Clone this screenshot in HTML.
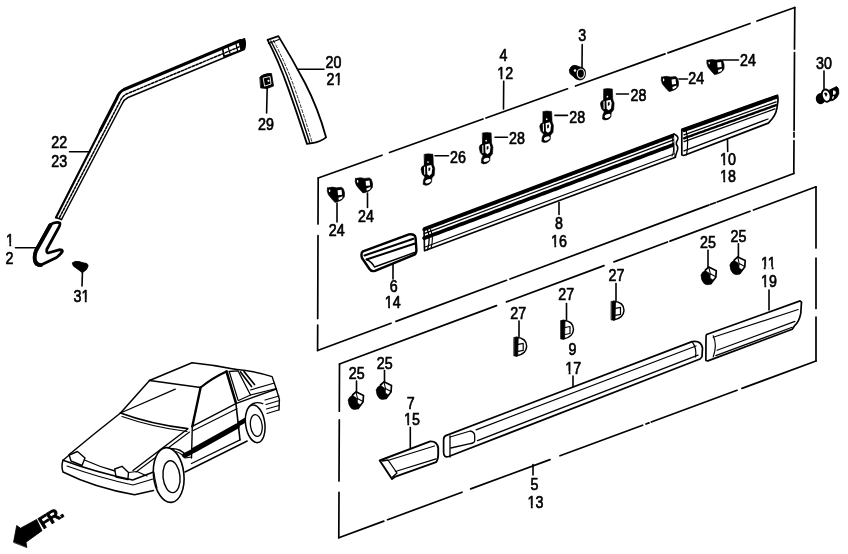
<!DOCTYPE html>
<html><head><meta charset="utf-8"><style>
html,body{margin:0;padding:0;background:#fff;}
svg{display:block;filter:grayscale(1)}
text{font-family:"Liberation Sans",sans-serif;font-size:17.0px;text-anchor:middle;fill:#000;stroke:#000;stroke-width:0.7px}
</style></head><body>
<svg width="848" height="554" viewBox="0 0 848 554">
<rect width="848" height="554" fill="#fff"/>
<g fill="none" stroke="#000" stroke-linecap="round" stroke-linejoin="round">
<path d="M318.2 178.0L382.0 155.2M389.5 152.5L483.0 119.0M486.0 118.0L567.5 88.8M575.5 86.0L665.0 53.9M668.0 52.9L750.0 23.5M757.0 21.0L794.8 7.5" stroke-width="1.70"/>
<path d="M794.8 7.5L794.5 49.0M794.5 52.5L794.1 130.3M794.0 132.6L794.0 137.1M794.0 140.7L793.8 173.5" stroke-width="1.70"/>
<path d="M793.8 173.5L717.1 202.0M715.2 202.7L710.3 204.5M708.7 205.1L510.0 279.0M506.5 280.3L396.0 321.4M391.0 323.2L317.6 350.5" stroke-width="1.70"/>
<path d="M317.6 350.5L317.7 325.0M317.7 318.5L318.0 235.5M318.0 224.0L318.2 178.0" stroke-width="1.70"/>
<path d="M339.5 364.0L496.5 305.6M506.5 301.9L604.0 265.6M614.0 261.9L667.5 242.0M670.0 241.1L750.0 211.3M753.5 210.0L816.0 186.8" stroke-width="1.70"/>
<path d="M816.0 186.8L816.0 248.0M816.0 258.0L816.0 308.5M816.0 317.0L816.0 361.0" stroke-width="1.70"/>
<path d="M816.0 361.0L742.0 388.4M737.0 390.3L651.3 422.0M649.0 422.9L646.0 424.0M642.6 425.2L560.0 455.8M550.0 459.6L470.7 488.9M462.0 492.2L387.6 519.7M383.8 521.1L338.8 537.8" stroke-width="1.70"/>
<path d="M338.8 537.8L339.0 492.3M339.0 481.0L339.3 419.9M339.3 411.2L339.5 364.0" stroke-width="1.70"/>
<path d="M15.5 247.7L36.0 247.7" stroke-width="1.6"/>
<path d="M69.5 151.7L90.0 151.7" stroke-width="1.6"/>
<path d="M82.5 271.0L82.0 286.0" stroke-width="1.6"/>
<path d="M298.4 69.3L324.0 69.3" stroke-width="1.6"/>
<path d="M267.2 88.0L266.6 113.0" stroke-width="1.6"/>
<path d="M503.7 81.0L503.5 109.0" stroke-width="1.6"/>
<path d="M582.2 44.5L582.0 67.5" stroke-width="1.6"/>
<path d="M435.0 155.8L448.5 155.8" stroke-width="1.6"/>
<path d="M495.0 137.2L507.5 137.2" stroke-width="1.6"/>
<path d="M555.0 115.4L567.5 115.4" stroke-width="1.6"/>
<path d="M616.5 94.0L628.5 94.0" stroke-width="1.6"/>
<path d="M679.0 79.0L687.5 79.0" stroke-width="1.6"/>
<path d="M722.0 60.0L738.5 60.0" stroke-width="1.6"/>
<path d="M824.0 71.0L824.0 89.0" stroke-width="1.6"/>
<path d="M337.0 203.0L337.0 222.0" stroke-width="1.6"/>
<path d="M367.5 193.0L367.5 207.5" stroke-width="1.6"/>
<path d="M393.0 263.0L393.0 279.0" stroke-width="1.6"/>
<path d="M559.0 202.5L559.0 214.5" stroke-width="1.6"/>
<path d="M727.5 139.5L727.7 151.5" stroke-width="1.6"/>
<path d="M708.0 250.3L708.0 267.5" stroke-width="1.6"/>
<path d="M738.4 243.8L738.4 256.5" stroke-width="1.6"/>
<path d="M769.0 290.0L769.0 310.0" stroke-width="1.6"/>
<path d="M519.0 321.0L519.0 336.5" stroke-width="1.6"/>
<path d="M566.5 303.5L566.5 320.0" stroke-width="1.6"/>
<path d="M616.0 283.5L616.0 301.0" stroke-width="1.6"/>
<path d="M573.0 376.0L573.0 386.5" stroke-width="1.6"/>
<path d="M356.5 381.0L356.5 394.0" stroke-width="1.6"/>
<path d="M384.5 370.5L384.5 383.5" stroke-width="1.6"/>
<path d="M410.3 427.0L410.3 448.0" stroke-width="1.6"/>
<path d="M533.0 464.5L533.0 475.0" stroke-width="1.6"/>
<path d="M424.0 228.0 L674.0 134.0 L675.5 157.2 L424.5 250.8Z" stroke-width="1.6" fill="#fff"/>
<path d="M424.0 229.6L674.1 135.6" stroke-width="3.20" stroke-dasharray="2.5 0.8"/>
<path d="M424.1 233.6L674.4 139.7" stroke-width="1.30"/>
<path d="M424.2 238.1L674.7 144.3" stroke-width="3.80" stroke-dasharray="2 0.7"/>
<path d="M424.4 247.2L675.3 153.5" stroke-width="1.20"/>
<path d="M427 228.5 Q431 238 427.5 250" stroke-width="1.3"/>
<path d="M430.5 229.5 Q434 237 431 248.5" stroke-width="1.1"/>
<path d="M674 134 Q678.5 136 677.9 139 Q676 142 676.3 144.3 Q678.5 147 677.5 150 L675 157.3" stroke-width="1.5" fill="#fff"/>
<path d="M670.5 136 Q674 139 672.5 145 Q675 150 672 156" stroke-width="1.1"/>
<path d="M681.8 129.2 L777.5 95.2 Q778.5 99 777.5 104 Q777 113 772 119 L768.3 123.1 L683.8 155.5 L681.8 155 Z" stroke-width="1.7" fill="#fff"/>
<path d="M684 130.2L776 97.1" stroke-width="3.80" stroke-dasharray="2.5 0.8"/>
<path d="M684 134.9L776 101.8" stroke-width="1.30"/>
<path d="M684 138.3L776 105.2" stroke-width="2.40" stroke-dasharray="1.5 1"/>
<path d="M684 141.6L775 108.9" stroke-width="1.30"/>
<path d="M684 150.9L768 119.0" stroke-width="1.30"/>
<path d="M686 130 Q689 142 686.5 155" stroke-width="1.2"/>
<path d="M363 251.3 L409 234.4 Q415 233.5 415.6 238 L416.4 250 Q416.5 253.5 414.5 254.6 L375 270.8 Q371.5 272 369.5 269 L362 258 Q360.5 253 363 251.3 Z" stroke-width="2.4" fill="#fff"/>
<path d="M364.5 255.5 L413.5 238.8 M366.5 259.5 L415 243.5" stroke-width="2.0"/>
<path d="M374.5 267 L414.5 252.5 M366.5 259.5 Q372 262 374.5 267" stroke-width="1.4"/>
<path d="M445.8 435.6 L692 341.6 Q701 340 702.5 348 L702 356.8 L700 359 L448.7 456.5 Q443.5 458 443.6 452 L443.6 440 Q443.6 436.5 445.8 435.6 Z" stroke-width="1.7" fill="#fff"/>
<path d="M476.1 429.8 L696 346 M477.5 440.6 L698 355.1" stroke-width="1.3"/>
<path d="M450.1 437 L470.3 431 Q474.7 432 474.7 436 L474.7 441 Q474 443.5 469 443.8 L450.8 448" stroke-width="1.3"/>
<path d="M450 436 L450 457" stroke-width="1.3"/>
<path d="M692 341.6 Q697 348 695.5 357" stroke-width="1.2"/>
<path d="M379.7 460.5 L430.2 441.4 Q437 441 438.2 448 L438.2 454.5 Q438 460 436.1 462.2 L395.4 476.6 L392 479.1 Z" stroke-width="1.9" fill="#fff"/>
<path d="M387.7 460.5 L434.4 446 M395.4 471.5 L436.1 458.8 M382 461 L388 460 L397 473 L392.5 477" stroke-width="1.3"/>
<path d="M706.6 334.5 L800.1 300.9 Q802 302 801.4 303 L800.8 313.4 Q799 322 794.9 325.3 L792.2 329.3 L707.9 360.9 Q705.5 361 705.9 359.6 L706 338 Q706 335 706.6 334.5 Z" stroke-width="1.7" fill="#fff"/>
<path d="M713.2 335.8 Q717.5 345 713.2 356.9 M713.2 337.2 L798.2 309.5 M717.1 350.3 L794.9 321.4 M715.8 355.6 L792.2 327.3" stroke-width="1.2"/>
<path d="M240.5 40.5 L124 89.5 Q119 92 117 98 L100 131" stroke-width="3.0"/>
<path d="M101 129 L56 217.5" stroke-width="2.2"/>
<path d="M244 49.5 L128 97.5 Q124 99.5 122 104 L61.5 219.5" stroke-width="1.5"/>
<path d="M242.5 45.5 L126.5 94 Q122 96.5 120 101.5 L59 218.5" stroke-width="1.5" stroke-dasharray="2.5 1.5"/>
<path d="M239 41 L244.5 38.5 Q246 42 245 48 L241 50 Z" fill="#000" stroke-width="1.2"/>
<path d="M222.5 48 L224 56.5 L244.5 49 L244 47" stroke-width="1.6"/>
<path d="M228 47 L230 53 M236 44 L237.5 50.5" stroke-width="1.2"/>
<path d="M56 217.5 L61.5 219.5" stroke-width="1.5"/>
<path d="M49.6 225.2 Q55 221.5 59.7 222.8 Q60.5 224 59 227 L47 249 Q46 252.5 48 253 L59 249.8 Q62.8 249.5 62.3 251.5 Q61 254 56.6 257.5 L41 265 Q36 266 34.5 261 Q33.5 256 35.5 251 Z" stroke-width="2.8" fill="#fff"/>
<path d="M50.5 225 L36.2 250.5 Q34 256 35.2 261 Q37 265.5 41 265" stroke-width="3.8"/>
<path d="M267.6 39.8 L278.4 36.1 Q293 60 305 83 Q318 108 326.1 137.4 Q320 142 313.6 142.8 L307 143.9 Q296 110 287.5 86.4 Q279 62 267.6 39.8 Z" stroke-width="1.8" fill="#fff"/>
<path d="M270.8 41 Q283.5 64 291.5 88 Q300.5 114 309.8 142.8" stroke-width="1.4"/>
<path d="M273.5 40.5 Q286 64 294.5 88 Q303 112 312 142" stroke-width="1.0" stroke-dasharray="3 2" stroke="#333"/>
<path d="M268.5 43.5 L279 39.5" stroke-width="1.3"/>
<g transform="translate(327.0 186.8)"><path d="M0.4 1.2 Q5.4 -0.5 9.4 1 L14.4 0.5 L16.4 2 Q18.2 6 17.4 10 Q15.4 14 10.4 15 L8 15.6 Q4.4 12 1.4 8 Q-0.6 4 0.4 1.2Z" fill="#000" stroke="#000" stroke-width="0.6"/><path d="M10.6 3.5 L14.5 3 L15.1 8 L11 8.4Z M11.4 11 L15.6 9.4 L15.2 11.8 L11.8 13.4Z" fill="#fff" stroke="none"/><ellipse cx="2.6" cy="4" rx="0.7" ry="1.4" fill="#fff" stroke="none"/></g>
<g transform="translate(355.0 177.4)"><path d="M0.4 1.2 Q5.4 -0.5 9.4 1 L14.4 0.5 L16.4 2 Q18.2 6 17.4 10 Q15.4 14 10.4 15 L8 15.6 Q4.4 12 1.4 8 Q-0.6 4 0.4 1.2Z" fill="#000" stroke="#000" stroke-width="0.6"/><path d="M10.6 3.5 L14.5 3 L15.1 8 L11 8.4Z M11.4 11 L15.6 9.4 L15.2 11.8 L11.8 13.4Z" fill="#fff" stroke="none"/><ellipse cx="2.6" cy="4" rx="0.7" ry="1.4" fill="#fff" stroke="none"/></g>
<g transform="translate(661.0 76.0)"><path d="M0.4 1.2 Q5.4 -0.5 9.4 1 L14.4 0.5 L16.4 2 Q18.2 6 17.4 10 Q15.4 14 10.4 15 L8 15.6 Q4.4 12 1.4 8 Q-0.6 4 0.4 1.2Z" fill="#000" stroke="#000" stroke-width="0.6"/><path d="M10.6 3.5 L14.5 3 L15.1 8 L11 8.4Z M11.4 11 L15.6 9.4 L15.2 11.8 L11.8 13.4Z" fill="#fff" stroke="none"/><ellipse cx="2.6" cy="4" rx="0.7" ry="1.4" fill="#fff" stroke="none"/></g>
<g transform="translate(706.6 59.1)"><path d="M0.4 1.2 Q5.4 -0.5 9.4 1 L14.4 0.5 L16.4 2 Q18.2 6 17.4 10 Q15.4 14 10.4 15 L8 15.6 Q4.4 12 1.4 8 Q-0.6 4 0.4 1.2Z" fill="#000" stroke="#000" stroke-width="0.6"/><path d="M10.6 3.5 L14.5 3 L15.1 8 L11 8.4Z M11.4 11 L15.6 9.4 L15.2 11.8 L11.8 13.4Z" fill="#fff" stroke="none"/><ellipse cx="2.6" cy="4" rx="0.7" ry="1.4" fill="#fff" stroke="none"/></g>
<g transform="translate(700.8 266.2)"><path d="M8 0.8 L15.5 4.5 L15 11 L10 17.5 L5 15.5 L4.5 4Z" fill="#fff" stroke="#000" stroke-width="1.7"/><path d="M0.3 9 Q0.8 5.5 4.5 4.5 L8.5 7 L9.5 12 L12.5 14 L10 17.8 Q6 19.5 3.5 17.5 Q0 14 0.3 9Z" fill="#000" stroke="#000" stroke-width="0.6"/><path d="M8 1 L9.5 7.5 L15 10.5 M9.5 7.5 L8 14.5" fill="none" stroke="#000" stroke-width="1.1"/></g>
<g transform="translate(729.7 256.1)"><path d="M8 0.8 L15.5 4.5 L15 11 L10 17.5 L5 15.5 L4.5 4Z" fill="#fff" stroke="#000" stroke-width="1.7"/><path d="M0.3 9 Q0.8 5.5 4.5 4.5 L8.5 7 L9.5 12 L12.5 14 L10 17.8 Q6 19.5 3.5 17.5 Q0 14 0.3 9Z" fill="#000" stroke="#000" stroke-width="0.6"/><path d="M8 1 L9.5 7.5 L15 10.5 M9.5 7.5 L8 14.5" fill="none" stroke="#000" stroke-width="1.1"/></g>
<g transform="translate(348.0 391.0)"><path d="M8 0.8 L15.5 4.5 L15 11 L10 17.5 L5 15.5 L4.5 4Z" fill="#fff" stroke="#000" stroke-width="1.7"/><path d="M0.3 9 Q0.8 5.5 4.5 4.5 L8.5 7 L9.5 12 L12.5 14 L10 17.8 Q6 19.5 3.5 17.5 Q0 14 0.3 9Z" fill="#000" stroke="#000" stroke-width="0.6"/><path d="M8 1 L9.5 7.5 L15 10.5 M9.5 7.5 L8 14.5" fill="none" stroke="#000" stroke-width="1.1"/></g>
<g transform="translate(376.0 381.0)"><path d="M8 0.8 L15.5 4.5 L15 11 L10 17.5 L5 15.5 L4.5 4Z" fill="#fff" stroke="#000" stroke-width="1.7"/><path d="M0.3 9 Q0.8 5.5 4.5 4.5 L8.5 7 L9.5 12 L12.5 14 L10 17.8 Q6 19.5 3.5 17.5 Q0 14 0.3 9Z" fill="#000" stroke="#000" stroke-width="0.6"/><path d="M8 1 L9.5 7.5 L15 10.5 M9.5 7.5 L8 14.5" fill="none" stroke="#000" stroke-width="1.1"/></g>
<g transform="translate(420.8 153.8) scale(0.900 0.970)"><path d="M4 0.5 Q8 -0.5 13.5 0.5 L14 11 L15.5 15 L15 22 L12.3 25 L12 29 Q10 32.5 5 32.5 L2.5 31.5 L3 27 L4.5 24 L1.5 21 L0.2 16 Q0.5 12.5 3.5 12 Z" fill="#000" stroke="#000" stroke-width="0.6"/><ellipse cx="8.2" cy="28.3" rx="3.4" ry="1.9" transform="rotate(-20 8.2 28.3)" fill="#fff" stroke="none"/><path d="M3.6 13.5 L4.8 13 L5 21 L3.8 21.5Z" fill="#fff" stroke="none"/><path d="M6.8 12.5 L11.5 11.5 L12.8 15 L12 20.5 L9.5 22.5 L7.2 21Z" fill="#fff" stroke="none"/><path d="M8.5 14.5 L10.5 14 L10.5 17 L8.6 18Z" fill="#000" stroke="none"/><circle cx="8" cy="8.5" r="0.9" fill="#fff" stroke="none"/></g>
<g transform="translate(479.0 132.4) scale(0.900 0.970)"><path d="M4 0.5 Q8 -0.5 13.5 0.5 L14 11 L15.5 15 L15 22 L12.3 25 L12 29 Q10 32.5 5 32.5 L2.5 31.5 L3 27 L4.5 24 L1.5 21 L0.2 16 Q0.5 12.5 3.5 12 Z" fill="#000" stroke="#000" stroke-width="0.6"/><ellipse cx="8.2" cy="28.3" rx="3.4" ry="1.9" transform="rotate(-20 8.2 28.3)" fill="#fff" stroke="none"/><path d="M3.6 13.5 L4.8 13 L5 21 L3.8 21.5Z" fill="#fff" stroke="none"/><path d="M6.8 12.5 L11.5 11.5 L12.8 15 L12 20.5 L9.5 22.5 L7.2 21Z" fill="#fff" stroke="none"/><path d="M8.5 14.5 L10.5 14 L10.5 17 L8.6 18Z" fill="#000" stroke="none"/><circle cx="8" cy="8.5" r="0.9" fill="#fff" stroke="none"/></g>
<g transform="translate(539.5 111.0) scale(0.900 0.970)"><path d="M4 0.5 Q8 -0.5 13.5 0.5 L14 11 L15.5 15 L15 22 L12.3 25 L12 29 Q10 32.5 5 32.5 L2.5 31.5 L3 27 L4.5 24 L1.5 21 L0.2 16 Q0.5 12.5 3.5 12 Z" fill="#000" stroke="#000" stroke-width="0.6"/><ellipse cx="8.2" cy="28.3" rx="3.4" ry="1.9" transform="rotate(-20 8.2 28.3)" fill="#fff" stroke="none"/><path d="M3.6 13.5 L4.8 13 L5 21 L3.8 21.5Z" fill="#fff" stroke="none"/><path d="M6.8 12.5 L11.5 11.5 L12.8 15 L12 20.5 L9.5 22.5 L7.2 21Z" fill="#fff" stroke="none"/><path d="M8.5 14.5 L10.5 14 L10.5 17 L8.6 18Z" fill="#000" stroke="none"/><circle cx="8" cy="8.5" r="0.9" fill="#fff" stroke="none"/></g>
<g transform="translate(600.2 88.5) scale(0.900 0.970)"><path d="M4 0.5 Q8 -0.5 13.5 0.5 L14 11 L15.5 15 L15 22 L12.3 25 L12 29 Q10 32.5 5 32.5 L2.5 31.5 L3 27 L4.5 24 L1.5 21 L0.2 16 Q0.5 12.5 3.5 12 Z" fill="#000" stroke="#000" stroke-width="0.6"/><ellipse cx="8.2" cy="28.3" rx="3.4" ry="1.9" transform="rotate(-20 8.2 28.3)" fill="#fff" stroke="none"/><path d="M3.6 13.5 L4.8 13 L5 21 L3.8 21.5Z" fill="#fff" stroke="none"/><path d="M6.8 12.5 L11.5 11.5 L12.8 15 L12 20.5 L9.5 22.5 L7.2 21Z" fill="#fff" stroke="none"/><path d="M8.5 14.5 L10.5 14 L10.5 17 L8.6 18Z" fill="#000" stroke="none"/><circle cx="8" cy="8.5" r="0.9" fill="#fff" stroke="none"/></g>
<g transform="translate(514.2 336.4)"><path d="M2 0.8 Q12.5 1.5 12.5 10 Q12 18 2 19.5 Z" fill="#fff" stroke="#000" stroke-width="1.5"/><path d="M0 1 L4 1 L3.5 19.5 L0 19.5Z" fill="#000" stroke="#000" stroke-width="0.8"/><path d="M4 8 L9 7 L9 14 L4 15" fill="none" stroke="#000" stroke-width="1.2"/></g>
<g transform="translate(561.0 319.5)"><path d="M2 0.8 Q12.5 1.5 12.5 10 Q12 18 2 19.5 Z" fill="#fff" stroke="#000" stroke-width="1.5"/><path d="M0 1 L4 1 L3.5 19.5 L0 19.5Z" fill="#000" stroke="#000" stroke-width="0.8"/><path d="M4 8 L9 7 L9 14 L4 15" fill="none" stroke="#000" stroke-width="1.2"/></g>
<g transform="translate(611.5 300.4)"><path d="M2 0.8 Q12.5 1.5 12.5 10 Q12 18 2 19.5 Z" fill="#fff" stroke="#000" stroke-width="1.5"/><path d="M0 1 L4 1 L3.5 19.5 L0 19.5Z" fill="#000" stroke="#000" stroke-width="0.8"/><path d="M4 8 L9 7 L9 14 L4 15" fill="none" stroke="#000" stroke-width="1.2"/></g>
<path d="M569.5 70 Q571 64.5 576 65.5 L580 67 Q586 67.5 585.5 74 Q585 80 579.5 80 Q575 79.5 573 76 Q569 74 569.5 70Z" fill="#000" stroke="#000" stroke-width="0.8"/>
<ellipse cx="580.8" cy="73.6" rx="3.6" ry="4.6" fill="none" stroke="#fff" stroke-width="1.1"/>
<circle cx="575" cy="70.5" r="1.2" fill="#fff" stroke="none"/>
<path d="M829.5 90 L836.5 86.5 Q839.5 88 838.8 93.5 Q837.5 98.5 833 100.3 L829.5 101 Z" fill="#000" stroke="#000" stroke-width="0.8"/>
<ellipse cx="820.6" cy="98.6" rx="4.8" ry="5.6" fill="#000" stroke="none"/>
<ellipse cx="826.2" cy="95.6" rx="4.3" ry="6.2" transform="rotate(-15 826.2 95.6)" fill="#fff" stroke="#000" stroke-width="1.9"/>
<path d="M824 93 Q826 91.5 827.5 94 L826 97 Z" fill="#000" stroke="none"/>
<path d="M833 90.5 Q835.5 90 836 92.5 Q835 95.5 833 94.5 Z M832.5 96.5 L834 96 L833.5 98.5 L832 99Z" fill="#fff" stroke="none"/>
<path d="M260 77 Q262 74.5 268 73.5 L271.5 73.5 L273.5 86 L267 88.5 L261 88 Z" fill="#000" stroke="#000" stroke-width="0.8"/>
<path d="M263.5 78 L270 76.5 L271 84 L265 86 Z" fill="none" stroke="#fff" stroke-width="0.9"/>
<circle cx="268.5" cy="80.8" r="1.1" fill="#fff" stroke="none"/>
<path d="M72.5 263 Q74 260.5 79 261.5 L84 263 Q88.5 263 88 266.5 Q87 270 84 271.5 L82 272.5 Q79 270 76 268 Q72 266 72.5 263Z" fill="#000" stroke="#000" stroke-width="0.8"/>
<path d="M149.5 380.5 L192 362.8 Q214 365 234.8 369.3" stroke-width="1.50"/>
<path d="M149.5 380.5 Q175 384 200.6 387.5" stroke-width="1.50"/>
<path d="M149.5 380.5 L120.5 413" stroke-width="1.50"/>
<path d="M120.5 413 L175.3 389.2" stroke-width="1.30"/>
<path d="M120.5 413 Q150 424 187.6 428.6" stroke-width="1.80"/>
<path d="M122 416.5 Q152 427 187 431.5" stroke-width="1.20"/>
<path d="M200.6 387.5 L192.3 426.4" stroke-width="2.40"/>
<path d="M192.3 426.4 L191.5 458" stroke-width="1.40"/>
<path d="M200.6 387.5 Q212 378 226.5 371.4" stroke-width="2.20"/>
<path d="M226.5 371.4 L235.8 402.5" stroke-width="2.60"/>
<path d="M229.5 372.5 L238 400" stroke-width="1.20"/>
<path d="M229 371.5 L238 370.8 L250.5 395 L238.5 400.5" stroke-width="1.30"/>
<path d="M240.5 372 L251.5 386.5 M244 371.5 L254.5 384.5" stroke-width="1.70"/>
<path d="M234.8 369.3 Q255 371 272.1 376.6 L276.3 389 L279.4 399.4 L279 410" stroke-width="1.40"/>
<path d="M250.5 390 L274.5 383" stroke-width="1.20"/>
<path d="M250.5 395 L276.3 388.5" stroke-width="1.20"/>
<path d="M265 400 L279 396 M266 404.5 L279.5 400.5 M266.5 409 L279 405.5 M267 413.5 L278.5 410" stroke-width="1.20"/>
<path d="M192.3 426.4 L235.8 403.6 L276.3 389" stroke-width="1.40"/>
<path d="M193.3 430.5 L236.9 408.8" stroke-width="1.20"/>
<path d="M235.8 402.5 L240 439.9" stroke-width="1.60"/>
<path d="M193.5 450.4 L237 426.2" stroke-width="5.40"/>
<path d="M239.5 423.5 L245.5 420" stroke-width="4.60"/>
<path d="M184.5 455.5 L191 452.2" stroke-width="4.80"/>
<path d="M191.5 463.5 L240 439.9" stroke-width="1.30"/>
<path d="M185 472 L247.2 441" stroke-width="1.40"/>
<path d="M247.2 409.8 Q252 400 262.8 403.6" stroke-width="1.30"/>
<ellipse cx="255.2" cy="423.8" rx="9.6" ry="19" transform="rotate(-8 255.2 423.8)" stroke-width="1.5" fill="#fff"/>
<ellipse cx="256.3" cy="425.5" rx="5.8" ry="11" transform="rotate(-8 256.3 425.5)" stroke-width="1.3"/>
<path d="M120.5 413 Q95 433 69.2 454.5" stroke-width="1.50"/>
<path d="M187.6 429 L133 470.5" stroke-width="1.50"/>
<path d="M189.5 432 L136 472" stroke-width="1.10"/>
<path d="M84.4 460 Q100 467 115 471" stroke-width="1.30"/>
<path d="M69.2 455 L77.5 451.5 L85 458 L82 465.5 L71 461 Z" stroke-width="1.40"/>
<path d="M114.7 469 L122 466.3 L128.5 472.5 L127.9 479.6 L116 477 Z" stroke-width="1.40"/>
<path d="M128.5 472.5 L137 471.5 L147 476" stroke-width="1.20"/>
<path d="M63 460.2 L69.2 455" stroke-width="1.40"/>
<path d="M63 460.2 Q95 472 132.7 480 L153.5 472" stroke-width="1.50"/>
<path d="M63 460.2 Q61 466 63 472 Q95 488 134.6 494.7 L153.5 490.5" stroke-width="1.50"/>
<path d="M67 466 Q100 478 133 485 L153 479" stroke-width="1.10"/>
<path d="M153.5 472 Q156 455 166 450 Q178 446 185.7 455" stroke-width="1.40"/>
<path d="M155.5 469 Q158 457 167 453 Q177 449 183 456" stroke-width="1.10"/>
<path d="M185 458 L191.5 457" stroke-width="1.20"/>
<ellipse cx="168.7" cy="475" rx="15.2" ry="27.5" transform="rotate(-6 168.7 475)" stroke-width="1.6" fill="#fff"/>
<ellipse cx="171.5" cy="476.7" rx="8.5" ry="16" transform="rotate(-6 171.5 476.7)" stroke-width="1.4"/>
<path d="M153.8 472 Q155 480 157 488" stroke-width="1.1"/>
<path d="M13.6 542 L16.7 525.5 L20.5 528.2 L36.6 519.4 L42 530.7 L26 542.2 L26.8 547.2 Z" fill="#000" stroke="#000" stroke-width="0.8"/>
<text x="0" y="0" transform="translate(43.2 529.3) rotate(-32)" style="font-weight:bold;font-size:17px;text-anchor:start;stroke-width:0.9px;letter-spacing:-0.8px">FR.</text>
<text x="0" y="0" transform="translate(59.30 148.00) scale(0.840 1)">22</text>
<text x="0" y="0" transform="translate(59.30 167.00) scale(0.840 1)">23</text>
<text x="0" y="0" transform="translate(10.00 245.50) scale(0.840 1)">1</text>
<text x="0" y="0" transform="translate(9.50 264.00) scale(0.840 1)">2</text>
<text x="0" y="0" transform="translate(81.50 302.00) scale(0.840 1)">31</text>
<text x="0" y="0" transform="translate(333.40 68.00) scale(0.840 1)">20</text>
<text x="0" y="0" transform="translate(334.40 85.30) scale(0.840 1)">21</text>
<text x="0" y="0" transform="translate(266.00 130.00) scale(0.840 1)">29</text>
<text x="0" y="0" transform="translate(503.50 61.00) scale(0.840 1)">4</text>
<text x="0" y="0" transform="translate(505.20 79.00) scale(0.840 1)">12</text>
<text x="0" y="0" transform="translate(582.30 41.00) scale(0.840 1)">3</text>
<text x="0" y="0" transform="translate(577.30 123.30) scale(0.840 1)">28</text>
<text x="0" y="0" transform="translate(517.00 143.80) scale(0.840 1)">28</text>
<text x="0" y="0" transform="translate(638.50 101.20) scale(0.840 1)">28</text>
<text x="0" y="0" transform="translate(458.00 163.20) scale(0.840 1)">26</text>
<text x="0" y="0" transform="translate(748.00 66.00) scale(0.840 1)">24</text>
<text x="0" y="0" transform="translate(696.30 84.00) scale(0.840 1)">24</text>
<text x="0" y="0" transform="translate(824.00 69.00) scale(0.840 1)">30</text>
<text x="0" y="0" transform="translate(336.80 236.00) scale(0.840 1)">24</text>
<text x="0" y="0" transform="translate(366.00 222.00) scale(0.840 1)">24</text>
<text x="0" y="0" transform="translate(393.80 292.00) scale(0.840 1)">6</text>
<text x="0" y="0" transform="translate(392.80 308.00) scale(0.840 1)">14</text>
<text x="0" y="0" transform="translate(559.00 229.00) scale(0.840 1)">8</text>
<text x="0" y="0" transform="translate(559.00 247.00) scale(0.840 1)">16</text>
<text x="0" y="0" transform="translate(728.00 165.30) scale(0.840 1)">10</text>
<text x="0" y="0" transform="translate(728.00 182.00) scale(0.840 1)">18</text>
<text x="0" y="0" transform="translate(708.00 247.50) scale(0.840 1)">25</text>
<text x="0" y="0" transform="translate(738.40 241.70) scale(0.840 1)">25</text>
<text x="0" y="0" transform="translate(768.40 269.10) scale(0.840 1)">11</text>
<text x="0" y="0" transform="translate(769.00 287.20) scale(0.840 1)">19</text>
<text x="0" y="0" transform="translate(518.30 318.50) scale(0.840 1)">27</text>
<text x="0" y="0" transform="translate(566.30 300.00) scale(0.840 1)">27</text>
<text x="0" y="0" transform="translate(616.50 281.00) scale(0.840 1)">27</text>
<text x="0" y="0" transform="translate(572.50 355.00) scale(0.840 1)">9</text>
<text x="0" y="0" transform="translate(573.30 373.50) scale(0.840 1)">17</text>
<text x="0" y="0" transform="translate(356.80 378.50) scale(0.840 1)">25</text>
<text x="0" y="0" transform="translate(384.80 368.50) scale(0.840 1)">25</text>
<text x="0" y="0" transform="translate(410.80 408.50) scale(0.840 1)">7</text>
<text x="0" y="0" transform="translate(412.00 425.40) scale(0.840 1)">15</text>
<text x="0" y="0" transform="translate(534.50 490.00) scale(0.840 1)">5</text>
<text x="0" y="0" transform="translate(535.50 508.00) scale(0.840 1)">13</text>
<g fill="#fff" stroke="none"><rect x="6.12" y="242.93" width="3.20" height="3.87"/><rect x="11.18" y="242.93" width="3.09" height="3.87"/><rect x="81.59" y="299.43" width="3.20" height="3.87"/><rect x="86.65" y="299.43" width="3.09" height="3.87"/><rect x="334.49" y="82.73" width="3.20" height="3.87"/><rect x="339.55" y="82.73" width="3.09" height="3.87"/><rect x="497.35" y="76.43" width="3.20" height="3.87"/><rect x="502.41" y="76.43" width="3.09" height="3.87"/><rect x="384.95" y="305.43" width="3.20" height="3.87"/><rect x="390.01" y="305.43" width="3.09" height="3.87"/><rect x="551.15" y="244.43" width="3.20" height="3.87"/><rect x="556.21" y="244.43" width="3.09" height="3.87"/><rect x="720.15" y="162.73" width="3.20" height="3.87"/><rect x="725.21" y="162.73" width="3.09" height="3.87"/><rect x="720.15" y="179.43" width="3.20" height="3.87"/><rect x="725.21" y="179.43" width="3.09" height="3.87"/><rect x="760.55" y="266.53" width="3.20" height="3.87"/><rect x="765.61" y="266.53" width="3.09" height="3.87"/><rect x="768.49" y="266.53" width="3.20" height="3.87"/><rect x="773.55" y="266.53" width="3.09" height="3.87"/><rect x="761.15" y="284.63" width="3.20" height="3.87"/><rect x="766.21" y="284.63" width="3.09" height="3.87"/><rect x="565.45" y="370.93" width="3.20" height="3.87"/><rect x="570.51" y="370.93" width="3.09" height="3.87"/><rect x="404.15" y="422.83" width="3.20" height="3.87"/><rect x="409.21" y="422.83" width="3.09" height="3.87"/><rect x="527.65" y="505.43" width="3.20" height="3.87"/><rect x="532.71" y="505.43" width="3.09" height="3.87"/></g>
</g>
</svg></body></html>
